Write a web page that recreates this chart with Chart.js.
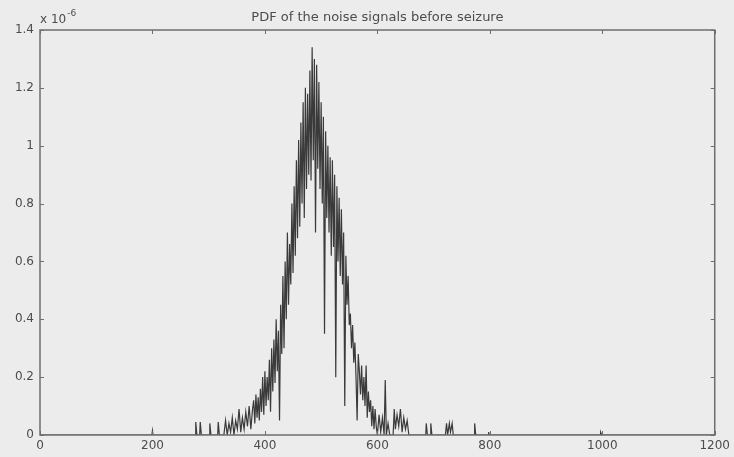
<!DOCTYPE html>
<html>
<head>
<meta charset="utf-8">
<script src="https://cdn.jsdelivr.net/npm/chart.js@4"></script>
<style>
  html, body { margin: 0; padding: 0; background: #ececec; }
  #wrap { width: 734px; height: 457px; }
</style>
</head>
<body>
<div id="wrap"><canvas id="pdf" width="734" height="457"></canvas></div>
<script>
// bin positions (signal amplitude) and estimated PDF values, in units of 1e-6
const binCenters = [
  0, 199, 200, 201, 276, 277, 279, 284, 285, 287, 301, 302, 304, 316, 317, 319,
  327, 330, 333, 336, 339, 342, 345, 348, 351, 354, 357,
  360, 363, 366, 369, 372, 375, 378,
  380, 382, 384, 386, 388, 390, 392, 394, 396, 398,
  400, 402, 404, 406, 408, 410, 412, 414, 416, 418,
  420, 422, 424, 426, 428, 430, 432, 434, 436, 438,
  440, 442, 444, 446, 448, 450, 452, 454, 456, 458,
  460, 462, 464, 466, 468, 470, 472, 474, 476, 478,
  480, 482, 484, 486, 488, 490, 492, 494, 496, 498,
  500, 502, 504, 506, 508, 510, 512, 514, 516, 518,
  520, 522, 524, 526, 528, 530, 532, 534, 536, 538,
  540, 542, 544, 546, 548, 550, 552, 554, 556, 558,
  560, 562, 564, 566, 568, 570, 572, 574, 576, 578,
  580, 582, 584, 586, 588, 590, 592, 594, 596, 598,
  600, 603, 606, 609, 612, 614, 616, 619, 622,
  628, 630, 632, 635, 638, 641, 644, 647, 650, 653, 656,
  686, 687, 689, 694, 695, 697,
  721, 723, 725, 728, 730, 733, 735,
  772, 773, 775, 797, 798, 799, 996, 997, 999, 1200
];
const density = [
  0, 0, 0.015, 0, 0, 0.045, 0, 0, 0.045, 0, 0, 0.04, 0, 0, 0.045, 0,
  0, 0.05, 0, 0.04, 0.01, 0.06, 0, 0.05, 0.02, 0.09, 0.01,
  0.06, 0.02, 0.08, 0.03, 0.1, 0.02, 0.09,
  0.12, 0.04, 0.14, 0.06, 0.13, 0.05, 0.16, 0.08, 0.2, 0.07,
  0.22, 0.1, 0.2, 0.12, 0.26, 0.08, 0.3, 0.15, 0.33, 0.18,
  0.4, 0.22, 0.36, 0.05, 0.45, 0.28, 0.55, 0.3, 0.6, 0.4,
  0.7, 0.45, 0.66, 0.52, 0.8, 0.56, 0.86, 0.62, 0.95, 0.68,
  1.02, 0.72, 1.08, 0.8, 1.15, 0.75, 1.2, 0.85, 1.18, 0.9,
  1.26, 0.88, 1.34, 0.95, 1.3, 0.7, 1.28, 0.92, 1.22, 0.85,
  1.15, 0.8, 1.1, 0.35, 1.05, 0.75, 1.0, 0.7, 0.96, 0.62,
  0.95, 0.65, 0.9, 0.2, 0.86, 0.6, 0.82, 0.55, 0.78, 0.52,
  0.7, 0.1, 0.62, 0.45, 0.55, 0.38, 0.42, 0.3, 0.38, 0.25,
  0.32, 0.2, 0.05, 0.28, 0.22, 0.14, 0.24, 0.12, 0.2, 0.1,
  0.24, 0.06, 0.15, 0.08, 0.12, 0.03, 0.1, 0.02, 0.09, 0.03,
  0, 0.07, 0.01, 0.06, 0, 0.19, 0, 0.04, 0,
  0, 0.09, 0.02, 0.07, 0.03, 0.09, 0.01, 0.06, 0.02, 0.05, 0,
  0, 0.04, 0, 0, 0.04, 0,
  0, 0.04, 0, 0.04, 0.01, 0.04, 0,
  0, 0.04, 0, 0, 0.01, 0, 0, 0.01, 0, 0
];
const xTicks = [0, 200, 400, 600, 800, 1000, 1200];
const yTicks = [0, 0.2, 0.4, 0.6, 0.8, 1, 1.2, 1.4];

const titleText = 'PDF of the noise signals before seizure';
const axisColor = '#6e6e6e';
const textColor = '#4c4c4c';
const fontFamily = '"DejaVu Sans", Verdana, sans-serif';

// matlab-style frame: box, inward ticks, title and exponent label
const matlabFrame = {
  id: 'matlabFrame',
  beforeDraw(chart) {
    const ctx = chart.ctx;
    ctx.save();
    ctx.fillStyle = '#ececec';
    ctx.fillRect(0, 0, chart.width, chart.height);
    ctx.restore();
  },
  afterDraw(chart) {
    const { ctx, chartArea: a, scales } = chart;
    ctx.save();
    ctx.strokeStyle = axisColor;
    ctx.lineWidth = 1.5;
    ctx.strokeRect(a.left, a.top, a.right - a.left, a.bottom - a.top);

    ctx.lineWidth = 1;
    const len = 4;
    xTicks.forEach(v => {
      const px = Math.round(scales.x.getPixelForValue(v)) + 0.5;
      ctx.beginPath();
      ctx.moveTo(px, a.bottom); ctx.lineTo(px, a.bottom - len);
      ctx.moveTo(px, a.top); ctx.lineTo(px, a.top + len);
      ctx.stroke();
    });
    yTicks.forEach(v => {
      const py = Math.round(scales.y.getPixelForValue(v)) + 0.5;
      ctx.beginPath();
      ctx.moveTo(a.left, py); ctx.lineTo(a.left + len, py);
      ctx.moveTo(a.right, py); ctx.lineTo(a.right - len, py);
      ctx.stroke();
    });

    ctx.fillStyle = textColor;
    ctx.font = '13px ' + fontFamily;
    ctx.textAlign = 'center';
    ctx.textBaseline = 'alphabetic';
    ctx.fillText(titleText, (a.left + a.right) / 2, 21);

    ctx.textAlign = 'left';
    ctx.font = '12px ' + fontFamily;
    ctx.fillText('x 10', a.left, 23);
    const w = ctx.measureText('x 10').width;
    ctx.font = '9px ' + fontFamily;
    ctx.fillText('-6', a.left + w + 1, 16);
    ctx.restore();
  }
};

const points = binCenters.map((x, i) => ({ x: x, y: density[i] }));

new Chart(document.getElementById('pdf'), {
  type: 'line',
  data: {
    datasets: [{
      data: points,
      borderColor: '#3a3a3a',
      borderWidth: 1.2,
      pointRadius: 0,
      tension: 0,
      fill: false
    }]
  },
  options: {
    responsive: false,
    animation: false,
    layout: { padding: { top: 30, right: 16, left: 0, bottom: 0 } },
    plugins: {
      legend: { display: false },
      title: { display: false },
      tooltip: { enabled: false }
    },
    scales: {
      x: {
        type: 'linear',
        min: 0,
        max: 1200,
        afterFit: s => { s.height = 22; },
        afterBuildTicks: s => { s.ticks = xTicks.map(v => ({ value: v })); },
        grid: { display: false, drawTicks: false },
        border: { display: false },
        ticks: {
          padding: 4,
          color: textColor,
          font: { size: 12, family: fontFamily },
          maxRotation: 0,
          callback: v => String(v)
        }
      },
      y: {
        type: 'linear',
        min: 0,
        max: 1.4,
        afterFit: s => { s.width = 40; },
        afterBuildTicks: s => { s.ticks = yTicks.map(v => ({ value: v })); },
        grid: { display: false, drawTicks: false },
        border: { display: false },
        ticks: {
          padding: 6,
          color: textColor,
          font: { size: 12, family: fontFamily },
          callback: v => String(parseFloat(v.toFixed(1)))
        }
      }
    }
  },
  plugins: [matlabFrame]
});
</script>
</body>
</html>
